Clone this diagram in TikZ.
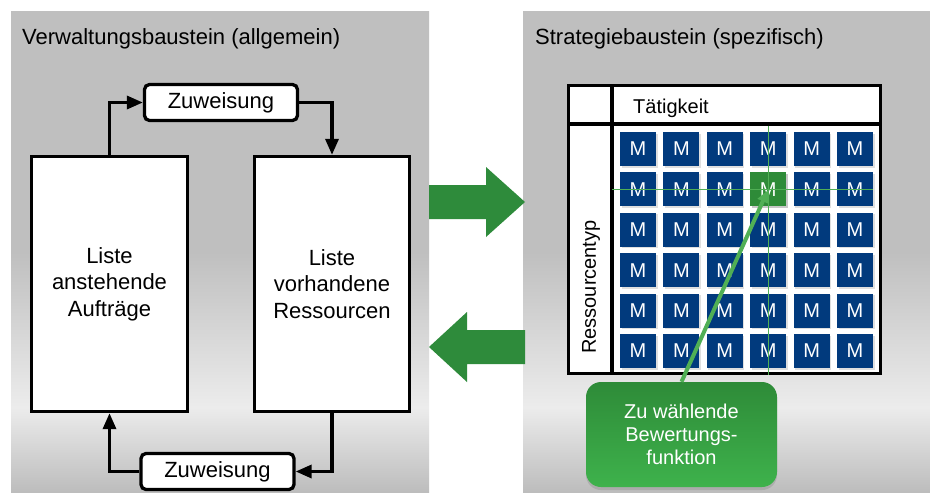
\documentclass[tikz,border=0pt]{standalone}
\usepackage{fontspec}
\setmainfont{Liberation Sans}
\usetikzlibrary{arrows.meta,shadows}
\definecolor{panelgray}{RGB}{191,191,191}
\definecolor{panellight}{RGB}{236,236,236}
\definecolor{panelbot}{RGB}{188,188,188}
\definecolor{arrgreen}{RGB}{46,139,59}
\definecolor{mblue}{RGB}{1,58,125}
\definecolor{hlgreen}{RGB}{46,139,56}
\definecolor{linegreen}{RGB}{80,175,85}
\definecolor{callgreen}{RGB}{46,139,56}
\definecolor{calllight}{RGB}{62,178,76}
\pgfdeclareverticalshading{panelbg}{100bp}{color(0bp)=(panelbot); color(25bp)=(panelbot); color(33.9bp)=(panellight); color(50bp)=(panelgray); color(75bp)=(panelgray); color(100bp)=(panelgray)}
\tikzset{
  bigfont/.style={font=\fontsize{22}{26.5}\selectfont},
  smallfont/.style={font=\fontsize{20}{23}\selectfont},
  listbox/.style={draw=black, line width=3.3pt, fill=white, align=center, inner sep=0pt, bigfont},
  zbox/.style={draw=black, line width=3.3pt, fill=white, rounded corners=5pt, inner sep=0pt,
    minimum width=153pt, minimum height=36pt, bigfont},
  flow/.style={line width=3.3pt, -{Triangle[length=16pt,width=13pt]}},
  mcell/.style={fill=mblue, text=white, minimum width=36pt, minimum height=34pt, inner sep=0pt,
    smallfont, drop shadow={shadow xshift=1.5pt, shadow yshift=-1.5pt, opacity=0.25}},
  bigarrow/.style={fill=arrgreen},
  crossline/.style={draw=linegreen, line width=1pt},
  pointer/.style={draw=linegreen, line width=4pt, -{Triangle[length=12pt,width=11pt]}, shorten >=1pt},
  callout/.style={rounded corners=15pt, top color=callgreen, middle color=callgreen, bottom color=calllight,
    text=white, align=center, smallfont, minimum width=191pt, minimum height=105pt, inner sep=0pt,
    drop shadow={shadow xshift=0pt, shadow yshift=-3pt, opacity=0.3}},
}
\begin{document}
\begin{tikzpicture}[x=1pt, y=-1pt]
\useasboundingbox (0,0) rectangle (930,493);
\fill[white] (0,0) rectangle (930,493);
% panels
\shade[shading=panelbg] (11,11) rectangle (429,493);
\shade[shading=panelbg] (523,11) rectangle (930,493);
% titles
\node[bigfont, anchor=base west, inner sep=0pt] (t1) at (22,44) {Verwaltungsbaustein (allgemein)};
\node[bigfont, anchor=base west, inner sep=0pt] (t2) at (535,44) {Strategiebaustein (spezifisch)};
% left panel
\node[listbox, minimum width=156pt, minimum height=255pt] (lb) at (109.5,284) {Liste\\anstehende\\Aufträge};
\node[listbox, minimum width=155pt, minimum height=255pt] (rb) at (332,284) {Liste\\vorhandene\\Ressourcen};
\node[zbox] (z1) at (221,102.5) {Zuweisung};
\node[zbox] (z2) at (217.5,471.5) {Zuweisung};
\draw[flow] (lb.north) |- (z1.west);
\draw[flow] (z1.east) -| (rb.north);
\draw[flow] (rb.south) |- (z2.east);
\draw[flow] (z2.west) -| (lb.south);
% big green arrows
\fill[bigarrow] (429,185) -- (486,185) -- (486,167) -- (525,202) -- (486,237) -- (486,219) -- (429,219) -- cycle;
\fill[bigarrow] (525,330) -- (467,330) -- (467,312) -- (429,347) -- (467,382) -- (467,364) -- (525,364) -- cycle;
% table
\node[draw=black, line width=3.3pt, fill=white, minimum width=312pt, minimum height=288pt, inner sep=0pt] (tab) at (724.5,229.5) {};
\draw[line width=3.3pt] (567,124) -- (882,124);
\draw[line width=3.3pt] (612,84) -- (612,375);
\node[smallfont, anchor=base west, inner sep=0pt] (tt) at (633,113) {Tätigkeit};
\node[smallfont, rotate=90, inner sep=0pt] (rt) at (591,287) {Ressourcentyp};
% cells
\foreach \i in {0,...,5} {
  \foreach \j in {0,...,5} {
    \node[mcell] (m\i\j) at (638+43.4*\i, 149+40.4*\j) {M};
  }
}
\node[mcell, fill=hlgreen, drop shadow={opacity=0}] (mh) at (m31.center) {M};
% crosshair
\draw[crossline] (768,126) -- (768,375);
\draw[crossline] (612,189) -- (873,189);
% callout
\node[callout] (cb) at (681.5,434.5) {Zu wählende\\Bewertungs-\\funktion};
\draw[pointer] (cb.north) -- (mh.center);
\end{tikzpicture}
\end{document}
